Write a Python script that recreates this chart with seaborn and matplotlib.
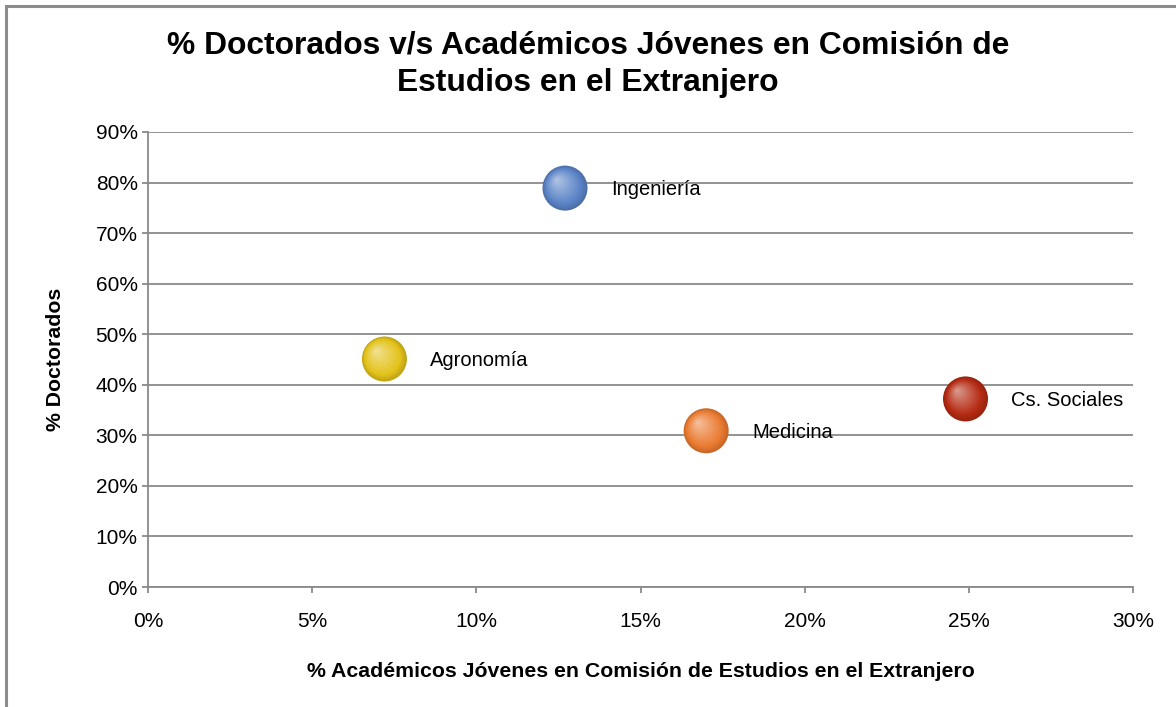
import pandas as pd
import matplotlib.pyplot as plt
import matplotlib.colors as mcolors
import seaborn as sns
from matplotlib.ticker import PercentFormatter, MultipleLocator
from matplotlib.patches import Rectangle

# data
areas = ["Ingeniería", "Agronomía", "Medicina", "Cs. Sociales"]
pct_jovenes = [12.7, 7.2, 17.0, 24.9]
pct_doctorados = [78.9, 45.1, 30.9, 37.2]
colors = ["#5a83c6", "#e3c21a", "#ea7a30", "#b42a12"]

df = pd.DataFrame({"area": areas, "jovenes": pct_jovenes, "doctorados": pct_doctorados})

sns.set_style("white")
plt.rcParams["font.family"] = ["Liberation Sans", "DejaVu Sans"]
plt.rcParams["text.color"] = "black"
plt.rcParams["axes.labelcolor"] = "black"

fig = plt.figure(figsize=(11.76, 7.07), dpi=100)
ax = fig.add_axes([0.1259, 0.1697, 0.8375, 0.6436])

# outer chart frame (right/bottom run off the image)
fig.patches.append(Rectangle((6 / 1176, -0.05), 1.1, 1 - 6 / 707 + 0.05,
                             transform=fig.transFigure, fill=False,
                             edgecolor="#8c8c8c", linewidth=2.2))

# fake sphere shading: stacked circles getting lighter towards top-left
palette = dict(zip(areas, colors))
px_x = 30 / 985   # data units per pixel
px_y = 90 / 455
base_size = 1050
steps = 16
for i in range(steps):
    f = i / (steps - 1)
    size = base_size * (1 - 0.92 * f) ** 2
    shade = {}
    for a, c in palette.items():
        rgb = mcolors.to_rgb(c)
        if f < 0.2:
            mix = [v * (0.85 + 0.15 * f / 0.2) for v in rgb]
        else:
            k = (f - 0.2) / 0.8 * 0.5
            mix = [v + (1 - v) * k for v in rgb]
        shade[a] = mix
    d = df.copy()
    d["jovenes"] = d["jovenes"] - 8 * f * px_x
    d["doctorados"] = d["doctorados"] + 8 * f * px_y
    sns.scatterplot(data=d, x="jovenes", y="doctorados", hue="area", palette=shade,
                    s=size, edgecolor="none", linewidth=0, legend=False, ax=ax, zorder=3 + i)

for a, x, y in zip(areas, pct_jovenes, pct_doctorados):
    ax.annotate(a, (x, y), xytext=(33, -1), textcoords="offset points",
                ha="left", va="center", fontsize=14.5, color="black", zorder=30)

ax.set_xlim(0, 30)
ax.set_ylim(0, 90)
ax.xaxis.set_major_locator(MultipleLocator(5))
ax.yaxis.set_major_locator(MultipleLocator(10))
ax.xaxis.set_major_formatter(PercentFormatter(decimals=0))
ax.yaxis.set_major_formatter(PercentFormatter(decimals=0))
ax.grid(axis="y", color="#8a8a8a", linewidth=1.3)
ax.grid(axis="x", visible=False)
ax.set_axisbelow(True)
for side in ["top", "right"]:
    ax.spines[side].set_visible(False)
for side in ["left", "bottom"]:
    ax.spines[side].set_color("#8a8a8a")
    ax.spines[side].set_linewidth(1.3)
ax.tick_params(axis="both", direction="out", length=4, width=1.3, color="#8a8a8a",
               labelsize=15, labelcolor="black")
ax.tick_params(axis="x", bottom=True, pad=14)
ax.tick_params(axis="y", left=True, pad=3.5)

ax.set_xlabel("% Académicos Jóvenes en Comisión de Estudios en el Extranjero",
              fontsize=15.3, fontweight="bold", labelpad=22)
ax.set_ylabel("% Doctorados", fontsize=15.3, fontweight="bold", labelpad=22)
fig.text(0.5, 0.909, "% Doctorados v/s Académicos Jóvenes en Comisión de\nEstudios en el Extranjero",
         ha="center", va="center", fontsize=22.9, fontweight="bold", linespacing=1.3)

fig.savefig("out.png", dpi=100)
